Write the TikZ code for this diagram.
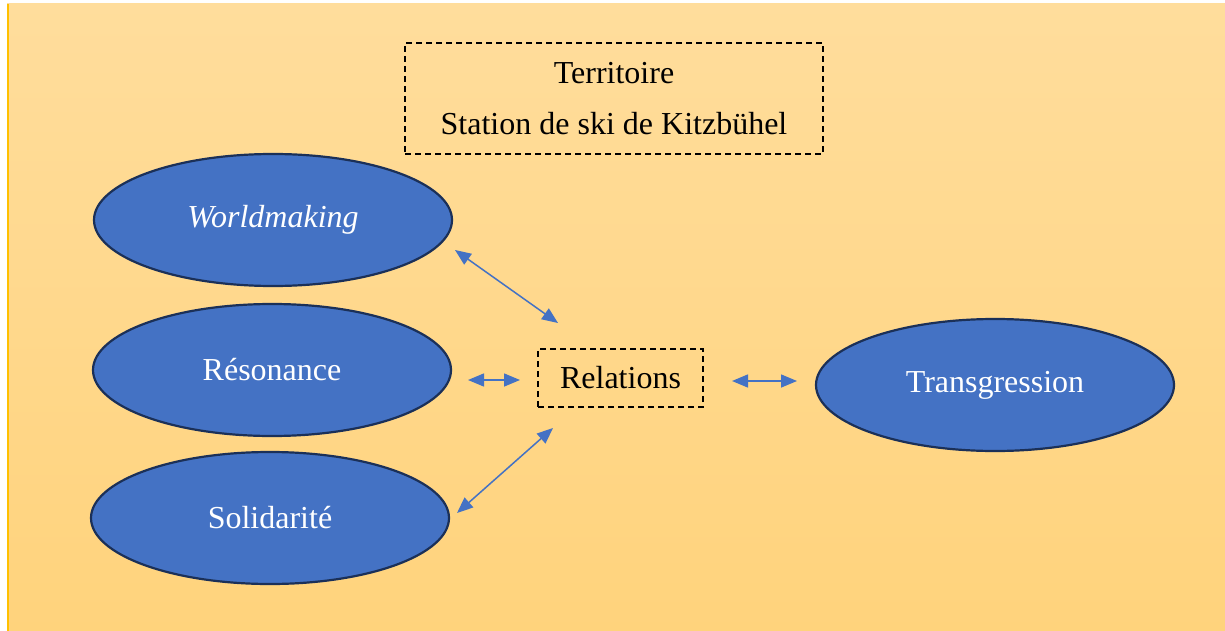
\documentclass[tikz,border=0pt]{standalone}
\usepackage{fontspec}
\setmainfont{Liberation Serif}
\usepackage{pgf}
\usetikzlibrary{math, shapes.geometric, arrows.meta}
\definecolor{bluefill}{RGB}{68,114,196}
\definecolor{blueline}{RGB}{27,48,88}
\definecolor{bgtop}{RGB}{255,221,156}
\definecolor{bgbot}{RGB}{255,211,124}
\definecolor{goldline}{RGB}{255,192,0}

\begin{document}
\begin{tikzpicture}[x=1pt, y=-1pt,
    concept/.style={ellipse, draw=blueline, line width=2.2pt, fill=bluefill, text=white,
      minimum width=358pt, minimum height=132pt, inner sep=0pt, font=\fontsize{32}{38}\selectfont},
    dashbox/.style={draw=black, line width=1.2pt, dash pattern=on 6pt off 4pt, inner sep=0pt,
      align=center, font=\fontsize{32}{54}\selectfont},
    link/.style={draw=bluefill, line width=1.5pt, {Triangle[length=16pt,width=13pt]}-{Triangle[length=16pt,width=13pt]}}]
      \useasboundingbox (0,0) rectangle (1225,631);
      \shade[top color=bgtop, bottom color=bgbot] (7,4) rectangle (1225,631);
      \fill[goldline] (7,4) rectangle (9,631);
      % cadre du territoire
      \node[dashbox, minimum width=418pt, minimum height=111pt] (terr) at (614,98.5)
        {\raisebox{-3pt}{Territoire}\\Station de ski de Kitzbühel};
      % concepts
      \node[concept] (wm) at (273,220) {\itshape Worldmaking};
      \node[concept] (res) at (272,370) {Résonance};
      \node[concept] (sol) at (270,518) {Solidarité};
      \node[concept] (trans) at (995,385) {\raisebox{-3pt}{Transgression}};
      \node[dashbox, minimum width=165pt, minimum height=58pt] (rel) at (620.5,378) {Relations};
      % extremites des fleches
      \coordinate (wmE) at (455,250);
      \coordinate (relNW) at (558,323);
      \coordinate (resE) at (468,380);
      \coordinate (relW) at (520,380);
      \coordinate (solE) at (457,513);
      \coordinate (relSW) at (553,428);
      \coordinate (relE) at (732,381);
      \coordinate (transW) at (797,381);
      \draw[link] (wmE) -- (relNW);
      \draw[link] (resE) -- (relW);
      \draw[link] (solE) -- (relSW);
      \draw[link] (relE) -- (transW);
    \end{tikzpicture}
\end{document}
